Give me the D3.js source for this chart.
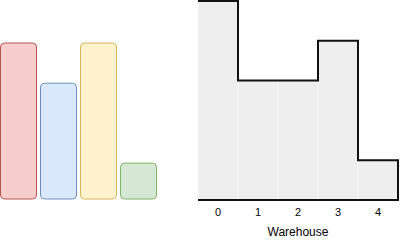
<!DOCTYPE html>
<html>
<head>
<meta charset="utf-8">
<script src="https://cdn.jsdelivr.net/npm/d3@7"></script>
<style>
  body { margin: 0; background: #fff; }
  svg { display: block; font-family: "Liberation Sans", Arial, sans-serif; }
</style>
</head>
<body>
<svg id="paper" width="400" height="242"></svg>
<script>
// left: small bar chart
var barValues = [4, 2.97, 4, 0.92];
var barFills = ["#f8cecc", "#dae8fc", "#fff2cc", "#d5e8d4"];
var barStrokes = ["#b85450", "#6c8ebf", "#d6b656", "#82b366"];

// right: warehouse step chart
var warehouses = ["0", "1", "2", "3", "4"];
var stock = [5, 3, 3, 4, 1];
var axisTitle = "Warehouse";

var svg = d3.select("#paper");

// bars
var bx = d3.scaleBand().domain(d3.range(barValues.length)).range([0, 160]);
var by = d3.scaleLinear().domain([0, 5]).range([199, 4]);

svg.append("g").selectAll("rect")
    .data(barValues)
    .enter().append("rect")
    .attr("x", function (d, i) { return bx(i) + 0.5; })
    .attr("y", function (d) { return by(d); })
    .attr("width", bx.bandwidth() - 4)
    .attr("height", function (d) { return by(0) - by(d); })
    .attr("rx", 4)
    .attr("fill", function (d, i) { return barFills[i]; })
    .attr("stroke", function (d, i) { return barStrokes[i]; })
    .attr("stroke-width", 1);

// step chart
var x = d3.scaleBand().domain(warehouses).range([198, 398]);
var y = d3.scaleLinear().domain([0, 5]).range([200, 1]);

var g = svg.append("g");

g.selectAll("rect.col")
    .data(stock)
    .enter().append("rect")
    .attr("class", "col")
    .attr("x", function (d, i) { return x(warehouses[i]); })
    .attr("y", function (d) { return y(d); })
    .attr("width", x.bandwidth())
    .attr("height", function (d) { return y(0) - y(d); })
    .attr("fill", "#eeeeee")
    .attr("stroke", "#f6f6f6")
    .attr("stroke-width", 1);

var pts = [];
stock.forEach(function (d, i) {
    pts.push([x(warehouses[i]), y(d)]);
    pts.push([x(warehouses[i]) + x.bandwidth(), y(d)]);
});
pts.push([x.range()[1], y(0)]);
pts.push([x.range()[0], y(0)]);

g.append("path")
    .attr("d", d3.line()(pts))
    .attr("fill", "none")
    .attr("stroke", "#111")
    .attr("stroke-width", 2);

var axis = d3.axisBottom(x).tickSize(0).tickPadding(8);
var ax = svg.append("g").attr("transform", "translate(0," + y(0) + ")").call(axis);
ax.select(".domain").remove();
ax.selectAll("text").attr("font-size", 11).attr("fill", "#000").attr("font-family", "Liberation Sans, Arial, sans-serif");

svg.append("text")
    .attr("x", (x.range()[0] + x.range()[1]) / 2)
    .attr("y", 236)
    .attr("text-anchor", "middle")
    .attr("font-size", 12)
    .text(axisTitle);
</script>
</body>
</html>
